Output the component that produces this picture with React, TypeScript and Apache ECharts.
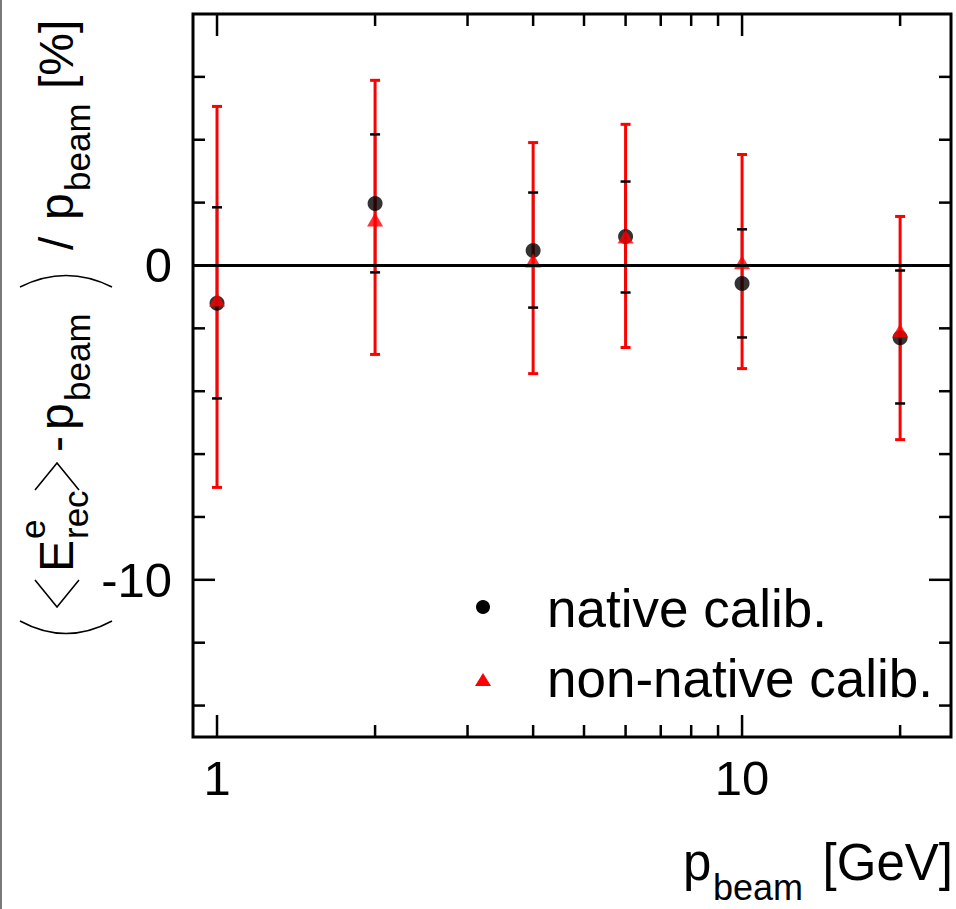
import React, { useEffect, useRef } from 'react';
import * as echarts from 'echarts';

// ---- data ----
const beamMomenta = [1, 2, 4, 6, 10, 20];
const nativeMean = [-1.2, 1.97, 0.48, 0.92, -0.57, -2.3];
const nativeLow = [-4.23, -0.22, -1.34, -0.86, -2.29, -4.39];
const nativeHigh = [1.85, 4.17, 2.32, 2.67, 1.15, -0.16];
const nonNativeMean = [-1.08, 1.46, 0.16, 0.92, 0.1, -2.07];
const nonNativeLow = [-7.06, -2.83, -3.44, -2.61, -3.28, -5.54];
const nonNativeHigh = [5.06, 5.89, 3.91, 4.49, 3.53, 1.56];

const xTicks = [1, 2, 3, 4, 5, 6, 7, 8, 9, 10, 20];
const xMajorTicks = [1, 10];
const xLabels = [1, 10];
const yTicks = [-14, -12, -10, -8, -6, -4, -2, 0, 2, 4, 6];
const yMajorTicks = [-10, 0];
const yLabels = [0, -10];

const seriesNames = ['native calib.', 'non-native calib.'];

const FONT = '"Liberation Sans", Arial, Helvetica, sans-serif';

function errRender(color: string, width: number, capHalf: number, lineZ: number, capZ: number) {
  return (params: any, api: any) => {
    const x = api.value(0);
    const lo = api.value(1);
    const hi = api.value(2);
    const top = api.coord([x, hi]);
    const bot = api.coord([x, lo]);
    const st = { stroke: color, lineWidth: width };
    return {
      type: 'group',
      children: [
        { type: 'line', z2: lineZ, shape: { x1: top[0], y1: top[1], x2: bot[0], y2: bot[1] }, style: st },
        { type: 'line', z2: capZ, shape: { x1: top[0] - capHalf, y1: top[1], x2: top[0] + capHalf, y2: top[1] }, style: st },
        { type: 'line', z2: capZ, shape: { x1: bot[0] - capHalf, y1: bot[1], x2: bot[0] + capHalf, y2: bot[1] }, style: st },
      ],
    };
  };
}

function textEl(text: string, x: number, y: number, size: number, align: string, rotation = 0) {
  return {
    type: 'text',
    x,
    y,
    rotation,
    silent: true,
    style: {
      text,
      fontSize: size,
      fontFamily: FONT,
      fill: '#000',
      align,
      verticalAlign: 'middle',
      textAlign: align,
      textVerticalAlign: 'middle',
    },
  };
}

export default function App() {
  const ref = useRef<HTMLDivElement>(null);

  useEffect(() => {
    if (!ref.current) return;
    const chart = echarts.init(ref.current, null, { renderer: 'svg' });

    const R = Math.PI / 2;
    // y-axis title pieces (rotated, reading bottom to top)
    const MF = 48; // main font
    const SF = 35; // sub font
    const mainX = 73 - 0.3465 * MF;
    const subX = 90 - 0.3465 * SF;
    const supX = 45 - 0.3465 * SF;
    const recX = 88 - 0.3465 * SF;

    const yTitle: any[] = [
      // big parentheses
      { type: 'bezierCurve', silent: true, shape: { x1: 20, y1: 621, x2: 112, y2: 621, cpx1: 66, cpy1: 646 }, style: { stroke: '#000', lineWidth: 1.6, fill: 'none' } },
      { type: 'bezierCurve', silent: true, shape: { x1: 20, y1: 287, x2: 112, y2: 287, cpx1: 66, cpy1: 264 }, style: { stroke: '#000', lineWidth: 1.6, fill: 'none' } },
      // angle brackets
      { type: 'polyline', silent: true, shape: { points: [[35, 580], [57, 607], [79, 580]] }, style: { stroke: '#000', lineWidth: 1.6, fill: 'none' } },
      { type: 'polyline', silent: true, shape: { points: [[35, 490], [57, 463], [79, 490]] }, style: { stroke: '#000', lineWidth: 1.6, fill: 'none' } },
      textEl('E', mainX, 572, MF, 'left', R),
      textEl('e', supX, 539, SF, 'left', R),
      textEl('rec', recX, 539, SF, 'left', R),
      textEl('-', mainX, 452, MF, 'left', R),
      textEl('p', mainX, 430, MF, 'left', R),
      textEl('beam', subX, 401, SF, 'left', R),
      textEl('/', mainX, 250, MF, 'left', R),
      textEl('p', mainX, 220, MF, 'left', R),
      textEl('beam', subX, 191, SF, 'left', R),
      textEl('[%]', mainX, 89, MF, 'left', R),
    ];

    // x-axis title
    const XF = 51;
    const XS = 36;
    const xTitle: any[] = [
      textEl('p', 683, 880 - 0.3465 * XF, XF, 'left'),
      textEl('beam', 713, 900 - 0.3465 * XS, XS, 'left'),
      textEl('[GeV]', 953, 880 - 0.3465 * XF, XF, 'right'),
    ];

    // legend
    const LF = 53;
    const legendEls: any[] = [
      { type: 'circle', silent: true, shape: { cx: 483, cy: 607, r: 7 }, style: { fill: '#000' } },
      { type: 'polygon', silent: true, shape: { points: [[483, 673], [491, 686], [475, 686]] }, style: { fill: '#ff0000' } },
      textEl(seriesNames[0], 547, 627 - 0.3465 * LF, LF, 'left'),
      textEl(seriesNames[1], 547, 697 - 0.3465 * LF, LF, 'left'),
    ];

    const option: any = {
      animation: false,
      backgroundColor: '#ffffff',
      grid: {
        left: 193,
        right: 5,
        top: 14,
        bottom: 172,
        show: true,
        borderColor: '#000',
        borderWidth: 3,
        backgroundColor: 'transparent',
      },
      xAxis: {
        type: 'log',
        logBase: 10,
        min: 0.9,
        max: 25,
        axisLine: { show: false },
        axisTick: { show: false },
        splitLine: { show: false },
        minorTick: { show: false },
        axisLabel: {
          fontSize: 49,
          fontFamily: FONT,
          color: '#000',
          margin: 16,
          showMinLabel: true,
          showMaxLabel: true,
          formatter: (v: number) =>
            xLabels.some((l) => Math.abs(v - l) < 1e-6) ? String(Math.round(v)) : '',
        },
      },
      yAxis: {
        type: 'value',
        min: -15,
        max: 8,
        interval: 5,
        axisLine: { show: false },
        axisTick: { show: false },
        splitLine: { show: false },
        axisLabel: {
          fontSize: 49,
          fontFamily: FONT,
          color: '#000',
          margin: 21,
          formatter: (v: number) =>
            yLabels.some((l) => Math.abs(v - l) < 1e-6) ? String(Math.round(v)) : '',
        },
      },
      graphic: [
        { type: 'rect', silent: true, shape: { x: 0, y: 0, width: 2, height: 909 }, style: { fill: '#7a7a7a' } },
        ...yTitle,
        ...xTitle,
        ...legendEls,
      ],
      series: [
        {
          type: 'line',
          name: 'zero',
          data: [],
          z: 1,
          silent: true,
          markLine: {
            silent: true,
            symbol: 'none',
            label: { show: false },
            lineStyle: { color: '#000', width: 3, type: 'solid' },
            data: [{ yAxis: 0 }],
          },
        },
        {
          type: 'custom',
          name: 'xticks',
          silent: true,
          z: 1,
          encode: { x: 0, y: 1 },
          data: xTicks.map((v) => [v, xMajorTicks.includes(v) ? 1 : 0]),
          renderItem: (params: any, api: any) => {
            const v = api.value(0);
            const major = api.value(1) === 1;
            const cs = params.coordSys;
            const px = api.coord([v, 0])[0];
            const len = major ? 22 : 12;
            const st = { stroke: '#000', lineWidth: 2.5 };
            return {
              type: 'group',
              children: [
                { type: 'line', shape: { x1: px, y1: cs.y + cs.height, x2: px, y2: cs.y + cs.height - len }, style: st },
                { type: 'line', shape: { x1: px, y1: cs.y, x2: px, y2: cs.y + len }, style: st },
              ],
            };
          },
        },
        {
          type: 'custom',
          name: 'yticks',
          silent: true,
          z: 1,
          encode: { x: 0, y: 1 },
          data: yTicks.map((v) => [1, v, yMajorTicks.includes(v) ? 1 : 0]),
          renderItem: (params: any, api: any) => {
            const v = api.value(1);
            const major = api.value(2) === 1;
            const cs = params.coordSys;
            const py = api.coord([1, v])[1];
            const len = major ? 22 : 12;
            const st = { stroke: '#000', lineWidth: 2.5 };
            return {
              type: 'group',
              children: [
                { type: 'line', shape: { x1: cs.x, y1: py, x2: cs.x + len, y2: py }, style: st },
                { type: 'line', shape: { x1: cs.x + cs.width, y1: py, x2: cs.x + cs.width - len, y2: py }, style: st },
              ],
            };
          },
        },
        {
          type: 'custom',
          name: seriesNames[0] + ' err',
          silent: true,
          z: 2,
          encode: { x: 0, y: [1, 2] },
          data: beamMomenta.map((x, i) => [x, nativeLow[i], nativeHigh[i]]),
          renderItem: errRender('#000', 2.5, 5, 0, 10),
        },
        {
          type: 'custom',
          name: seriesNames[1] + ' err',
          silent: true,
          z: 2,
          encode: { x: 0, y: [1, 2] },
          data: beamMomenta.map((x, i) => [x, nonNativeLow[i], nonNativeHigh[i]]),
          renderItem: errRender('#ff0000', 3, 5, 5, 5),
        },
        {
          type: 'scatter',
          name: seriesNames[0],
          z: 3,
          symbol: 'circle',
          symbolSize: 15,
          itemStyle: { color: '#000' },
          data: beamMomenta.map((x, i) => [x, nativeMean[i]]),
        },
        {
          type: 'scatter',
          name: seriesNames[1],
          z: 4,
          symbol: 'triangle',
          symbolSize: [16, 14],
          itemStyle: { color: '#ff0000' },
          data: beamMomenta.map((x, i) => [x, nonNativeMean[i]]),
        },
      ],
    };

    chart.setOption(option);
    return () => chart.dispose();
  }, []);

  return (
    <div
      ref={ref}
      style={{ position: 'fixed', left: 0, top: 0, width: 956, height: 909, background: '#fff' }}
    />
  );
}
